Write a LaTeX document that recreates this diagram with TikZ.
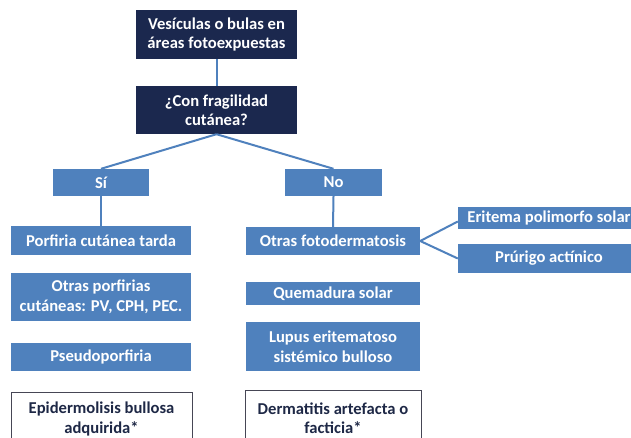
\documentclass[tikz,border=0pt]{standalone}
\usepackage{fontspec}
\setmainfont{Carlito}
\definecolor{navy}{RGB}{27,40,78}
\definecolor{mblue}{RGB}{79,129,189}
\definecolor{txtnavy}{RGB}{30,40,70}
\definecolor{bordergray}{RGB}{70,70,85}
\begin{document}
\begin{tikzpicture}[x=1pt,y=-1pt,
  basebox/.style={font=\bfseries\fontsize{16.6}{19.5}\selectfont,align=center,inner sep=0pt},
  dbox/.style={basebox,fill=navy,text=white},
  bbox/.style={basebox,fill=mblue,text=white},
  wbox/.style={basebox,draw=bordergray,line width=1pt,fill=white,text=txtnavy},
  link/.style={draw=mblue,line width=2pt}]
\useasboundingbox (0,0) rectangle (631,438);
\clip (0,0) rectangle (631,438);
\fill[white] (0,0) rectangle (631,438);
% top
\node[dbox,minimum width=161pt,minimum height=49pt] (top) at (216.5,34.5) {Vesículas o bulas en\\áreas fotoexpuestas};
\node[dbox,minimum width=161pt,minimum height=48pt] (q) at (216.5,110) {¿Con fragilidad\\cutánea?};
\node[bbox,minimum width=96pt,minimum height=27pt] (si) at (101,182.5) {Sí};
\node[bbox,minimum width=97pt,minimum height=27pt] (no) at (333.5,182.5) {No};
% left column
\node[bbox,minimum width=180pt,minimum height=29pt] (p1) at (101,240.5) {Porfiria cutánea tarda};
\node[bbox,minimum width=180pt,minimum height=48pt] (p2) at (101,297) {Otras porfirias\\cutáneas: PV, CPH, PEC.};
\node[bbox,minimum width=180pt,minimum height=28pt] (p3) at (101,357) {Pseudoporfiria};
\node[wbox,minimum width=181pt,minimum height=54pt] (p4) at (101.5,419) {Epidermolisis bullosa\\adquirida*};
% middle column
\node[bbox,minimum width=174pt,minimum height=28pt] (fd) at (333,241) {Otras fotodermatosis};
\node[bbox,minimum width=174pt,minimum height=23pt] (qs) at (333,293.5) {Quemadura solar};
\node[bbox,minimum width=174pt,minimum height=49pt] (lu) at (333,346.5) {Lupus eritematoso\\sistémico bulloso};
\node[wbox,minimum width=176pt,minimum height=56pt] (de) at (333,418) {Dermatitis artefacta o\\facticia*};
% right column
\node[bbox,minimum width=182pt,minimum height=22pt] (eri) at (549,218) {Eritema polimorfo solar};
\node[bbox,minimum width=182pt,minimum height=29pt] (pru) at (549,258.5) {Prúrigo actínico};
% connectors
\draw[link] (top.south) -- (q.north);
\draw[link] (q.south) -- (si.north);
\draw[link] (q.south) -- (no.north);
\draw[link] (si.south) -- (p1.north);
\draw[link] (no.south) -- (fd.north);
\draw[link] ([yshift=-3.5pt]eri.west) -- (fd.east) -- (pru.west);
\end{tikzpicture}
\end{document}
